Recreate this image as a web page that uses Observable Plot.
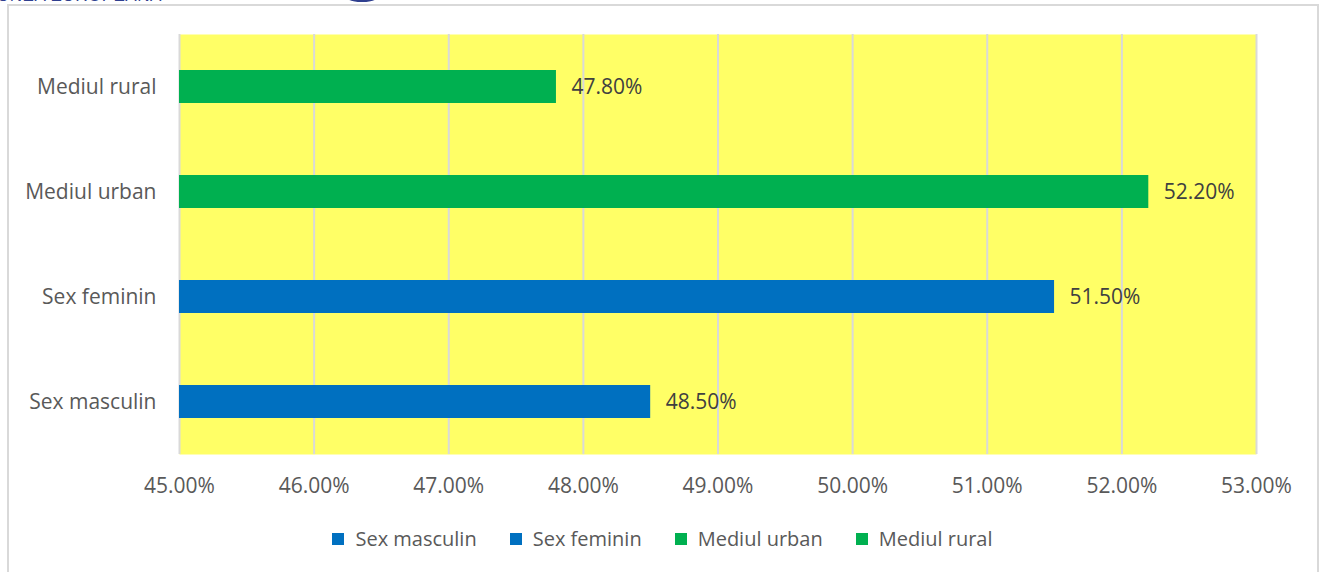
<!DOCTYPE html>
<html>
<head>
<meta charset="utf-8">
<script src="https://cdn.jsdelivr.net/npm/d3@7"></script>
<script src="https://cdn.jsdelivr.net/npm/@observablehq/plot@0.6"></script>
<style>
  html, body { margin: 0; padding: 0; background: #fff; }
  body { width: 1325px; height: 572px; overflow: hidden; position: relative; font-family: "Open Sans", sans-serif; }
  #frame { position: absolute; left: 7px; top: 4px; width: 1312px; height: 600px; border: 2px solid #d9d9d9; box-sizing: border-box; }
  #chart { position: absolute; left: 0; top: 0; }
  #hdrL { position: absolute; left: -3px; top: -14px; font: 17px "Liberation Sans", sans-serif; color: #2f3f8f; letter-spacing: 0.5px; }
  #hdrR { position: absolute; left: 1085px; top: -10px; font: bold 11px "Liberation Sans", sans-serif; color: #333; }
  #logo { position: absolute; left: 340px; top: -20px; width: 44px; height: 22px; border: 3px solid #2f3f8f; border-radius: 50%; box-sizing: border-box; }
  #legend { position: absolute; top: 525px; left: 0; width: 1325px; display: flex; justify-content: center; font-size: 20px; color: #595959; }
  .item { display: flex; align-items: center; margin-right: 33px; }
  .item:last-child { margin-right: 0; }
  .sw { width: 12px; height: 12px; margin-right: 11px; }
</style>
</head>
<body>
<div id="hdrL">UNEA EUROPEANA</div>
<div id="logo"></div>
<div id="hdrR">2014-2020</div>
<div id="frame"></div>
<div id="chart"></div>
<div id="legend"></div>
<script>
const categories = ["Sex masculin", "Sex feminin", "Mediul urban", "Mediul rural"];
const values = [0.485, 0.515, 0.522, 0.478];
const groups = ["sex", "sex", "mediu", "mediu"];
const groupColors = { sex: "#0070c0", mediu: "#00b050" };
const xDomain = [0.45, 0.53];
const xTicks = [0.45, 0.46, 0.47, 0.48, 0.49, 0.50, 0.51, 0.52, 0.53];

const data = categories.map((c, i) => ({ category: c, value: values[i], group: groups[i] }));
const yOrder = categories.slice().reverse();

const chart = Plot.plot({
  width: 1325,
  height: 500,
  marginLeft: 179,
  marginRight: 69,
  marginTop: 34,
  marginBottom: 46,
  style: { fontFamily: "Open Sans, sans-serif", fontSize: "21px", color: "#595959", background: "transparent" },
  x: { domain: xDomain, ticks: xTicks, tickFormat: d3.format(".2%"), tickSize: 0, tickPadding: 24, label: null },
  y: { domain: yOrder, paddingInner: 0.686, paddingOuter: 0.343, tickSize: 0, tickPadding: 23, label: null },
  marks: [
    Plot.frame({ fill: "#ffff66", stroke: null }),
    Plot.gridX(xTicks, { stroke: "#d9d9d9", strokeOpacity: 1, strokeWidth: 2 }),
    Plot.barX(data, { x: "value", y: "category", fill: d => groupColors[d.group], clip: true }),
    Plot.text(data, { x: "value", y: "category", text: d => d3.format(".2%")(d.value), textAnchor: "start", dx: 15, fill: "#404040", fontSize: 21 })
  ]
});
document.getElementById("chart").appendChild(chart);

const legend = document.getElementById("legend");
data.forEach(d => {
  const it = document.createElement("div");
  it.className = "item";
  const sw = document.createElement("div");
  sw.className = "sw";
  sw.style.background = groupColors[d.group];
  const tx = document.createElement("span");
  tx.textContent = d.category;
  it.appendChild(sw); it.appendChild(tx);
  legend.appendChild(it);
});
</script>
</body>
</html>
